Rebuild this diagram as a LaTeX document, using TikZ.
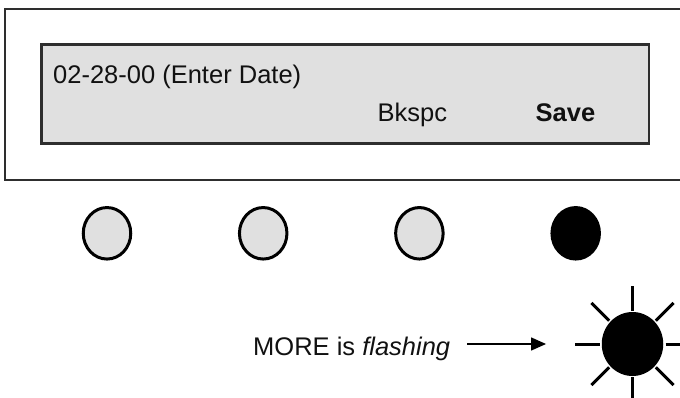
\documentclass[tikz,border=0pt]{standalone}
\usepackage{fontspec}
\setmainfont{Liberation Sans}
\usetikzlibrary{arrows.meta,positioning,shapes.geometric}
\definecolor{Ink}{HTML}{111111}
\definecolor{Frame}{HTML}{2E2E2E}
\definecolor{Lcd}{HTML}{E0E0E0}
\newcommand{\panelfont}{\fontsize{25.5pt}{30pt}\selectfont}
\begin{document}
\begin{tikzpicture}[x=1pt,y=-1pt,>={Triangle[length=15pt,width=13pt]},
  frame/.style={rectangle,draw=Frame,line width=1.6pt,fill=white,inner sep=0pt},
  lcd/.style={rectangle,draw=Frame,line width=2.2pt,fill=Lcd,inner sep=0pt},
  key/.style={ellipse,draw=black,line width=3pt,fill=Lcd,minimum width=47.5pt,minimum height=51.5pt,inner sep=0pt},
  lit/.style={key,fill=black},
  ray/.style={line width=3pt,black},
  flash/.style={->,line width=1.4pt,black},
  every node/.style={font=\panelfont,text=Ink,inner sep=0pt}]
  \useasboundingbox (0,0) rectangle (680,398);
  \clip (0,0) rectangle (680,398);
  \node[frame,minimum width=700pt,minimum height=171pt] (panel) at (355,94.5) {};
  \node[lcd,minimum width=607.5pt,minimum height=99pt] (screen) at (345.25,94) {};
  \node[anchor=base west] (date) at (53,84) {02-28-00 (Enter Date)};
  \node[anchor=base west] (bkspc) at (377.4,121.7) {Bkspc};
  \node[anchor=base west,font=\panelfont\bfseries] (save) at (535.5,121.7) {Save};
  % soft keys under the display
  \foreach \i/\x in {1/107,2/263.2,3/419.4}{
    \node[key] (k\i) at (\x,233.3) {};
  }
  \node[lit] (k4) at (575.7,233.3) {};
  % the flashing MORE key
  \node[ellipse,fill=black,minimum width=61.5pt,minimum height=64pt] (sun) at (632.5,344) {};
  \foreach \a in {0,45,...,315}{
    \draw[ray] (sun.center) ++(\a:33) -- ++(\a:25);
  }
  \node[anchor=base west] (msg) at (253,355) {MORE is \textit{flashing}};
  \draw[flash,shorten <=17pt,shorten >=55.5pt] (msg.east |- sun.west) -- (sun.west);
\end{tikzpicture}
\end{document}
